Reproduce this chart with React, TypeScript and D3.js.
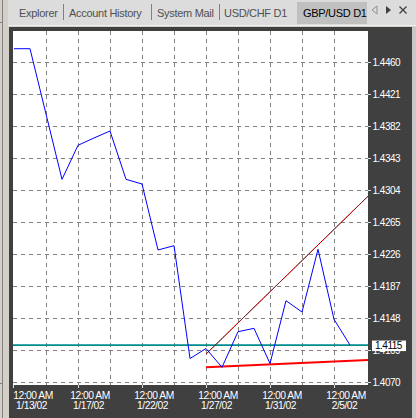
import React from "react";
import * as d3 from "d3";

// ---- data ----
const dates = [
  "1/13/02", "1/14/02", "1/15/02", "1/16/02", "1/17/02", "1/18/02",
  "1/20/02", "1/21/02", "1/22/02", "1/23/02", "1/24/02", "1/25/02",
  "1/27/02", "1/28/02", "1/29/02", "1/30/02", "1/31/02", "2/1/02",
  "2/3/02", "2/4/02", "2/5/02", "2/6/02",
];
const closes = [
  1.44762, 1.44762, 1.43966, 1.4317, 1.43585, 1.43674,
  1.43759, 1.4317, 1.43113, 1.42309, 1.42361, 1.40986,
  1.41108, 1.40879, 1.41313, 1.41354, 1.40925, 1.41691,
  1.41553, 1.42317, 1.41464, 1.4115,
];
const priceTicks = [1.407, 1.4109, 1.4148, 1.4187, 1.4226, 1.4265, 1.4304, 1.4343, 1.4382, 1.4421, 1.446];
const dateTickIdx = [0, 4, 8, 12, 16, 20];
const timeLabel = "12:00 AM";
const currentPrice = 1.4115;
// trend lines: anchor points [barIndex, price]
const upperTrendIdx = [12, 19];
const upperTrendVal = [1.4104, 1.4237];
const lowerTrendIdx = [12, 21];
const lowerTrendVal = [1.40879, 1.40958];
const tabs = ["Explorer", "Account History", "System Mail", "USD/CHF D1", "GBP/USD D1"];

// ---- layout ----
const W = 416, H = 418;
const PL = 13, PR = 368, PT = 31, PB = 385;
const tabX = [19, 69, 157, 224, 303];
const sepX = [63, 151, 219];

export default function App() {
  const x = d3.scaleLinear().domain([0, dates.length - 1]).range([14, 350]);
  const y = d3.scaleLinear().domain([1.407, 1.446]).range([382, 62]);
  const line = d3
    .line<number>()
    .x((_, i) => x(i))
    .y((d) => y(d));
  const blue = line(closes) || "";

  const ext = (idx: number[], val: number[]) => {
    const s = (val[1] - val[0]) / (idx[1] - idx[0]);
    const iEnd = x.invert(PR);
    return { x1: x(idx[0]), y1: y(val[0]), x2: x(iEnd), y2: y(val[0] + s * (iEnd - idx[0])) };
  };
  const up = ext(upperTrendIdx, upperTrendVal);
  const lo = ext(lowerTrendIdx, lowerTrendVal);

  const font = "'Liberation Sans', Arial, sans-serif";
  const gridIdx = d3.range(2, dates.length, 2);
  const boxTop = y(currentPrice) - 4.5;
  const boxH = 10.5;

  return (
    <svg
      width={W}
      height={H}
      style={{ position: "absolute", left: 0, top: 0, display: "block" }}
      fontFamily={font}
    >
      {/* window background */}
      <rect x={0} y={0} width={W} height={H} fill="#d4d0c8" />
      {/* left strip */}
      <line x1={2.5} y1={0} x2={2.5} y2={H} stroke="#808080" />
      <line x1={0} y1={22.5} x2={3} y2={22.5} stroke="#808080" />
      <line x1={0} y1={383.5} x2={3} y2={383.5} stroke="#808080" />
      {/* tab bar */}
      <rect x={8} y={0} width={W - 8} height={26} fill="#dcdcdc" />
      <rect x={297} y={2} width={70} height={22} fill="#c0c0c0" />
      {sepX.map((sx) => (
        <line key={sx} x1={sx + 0.5} y1={4} x2={sx + 0.5} y2={20} stroke="#808080" />
      ))}
      {tabs.map((t, i) => (
        <text
          key={t}
          x={tabX[i]}
          y={16.5}
          fontSize={11}
          letterSpacing={-0.3}
          fill={i === tabs.length - 1 ? "#000" : "#505050"}
        >
          {t}
        </text>
      ))}
      <rect x={367} y={0} width={W - 367} height={26} fill="#dcdcdc" />
      <path d="M377,6 L372,10 L377,14 Z" fill="none" stroke="#909090" />
      <path d="M386,6 L391,10 L386,14 Z" fill="#404040" />
      <path d="M399.5,6.5 L406.5,13.5 M406.5,6.5 L399.5,13.5" stroke="#404040" strokeWidth={1.3} />
      <line x1={8} y1={25.5} x2={W} y2={25.5} stroke="#f0f0f0" />

      {/* dark chart frame */}
      <rect x={9} y={27} width={412 - 9} height={H - 27} fill="#404040" />
      <rect x={412} y={27} width={4} height={H - 27} fill="#c8c8c8" />
      {/* plot */}
      <rect x={PL} y={PT} width={PR - PL} height={PB - PT} fill="#ffffff" />
      <defs>
        <clipPath id="plotClip">
          <rect x={PL} y={PT} width={PR - PL} height={PB - PT} />
        </clipPath>
        <clipPath id="underBox">
          <rect x={PR} y={boxTop + boxH} width={W - PR} height={20} />
        </clipPath>
      </defs>
      <g stroke="#808080" strokeDasharray="4,4">
        {priceTicks.map((p) => (
          <line key={p} x1={PL} x2={PR} y1={Math.round(y(p)) + 0.5} y2={Math.round(y(p)) + 0.5} />
        ))}
        {gridIdx.map((i) => (
          <line key={i} x1={Math.round(x(i)) + 0.5} x2={Math.round(x(i)) + 0.5} y1={PT} y2={PB} />
        ))}
      </g>
      <g clipPath="url(#plotClip)">
        <line
          x1={PL}
          x2={PR}
          y1={y(currentPrice)}
          y2={y(currentPrice)}
          stroke="#008c8c"
          strokeWidth={1.6}
        />
        <line {...lo} stroke="#ff0000" strokeWidth={2} />
        <line {...up} stroke="#202020" strokeWidth={1} />
        <line {...up} stroke="#ff0000" strokeWidth={1} strokeDasharray="2,1" />
        <path d={blue} fill="none" stroke="#0000ff" strokeWidth={1} />
      </g>

      {/* right axis */}
      {priceTicks.map((p) => {
        const hidden = Math.abs(y(p) - y(currentPrice)) < 8;
        return (
          <g key={p}>
            <line x1={PR} x2={371} y1={Math.round(y(p)) + 0.5} y2={Math.round(y(p)) + 0.5} stroke="#e0e0e0" />
            <text
              x={372.5}
              y={y(p) + 3.8}
              fontSize={10}
              letterSpacing={-0.5}
              fill="#ffffff"
              clipPath={hidden ? "url(#underBox)" : undefined}
            >
              {p.toFixed(4)}
            </text>
          </g>
        );
      })}
      <rect x={372} y={boxTop} width={34} height={boxH} fill="#ffffff" />
      <text x={375} y={y(currentPrice) + 4} fontSize={10} letterSpacing={-0.5} fill="#000000">
        {currentPrice.toFixed(4)}
      </text>

      {/* bottom axis */}
      {dateTickIdx.map((i) => {
        const tx = Math.round(x(i)) - (i === 0 ? 1 : 0);
        const cx = i === 0 ? 33 : tx + 12;
        return (
          <g key={i}>
            <line x1={tx + 0.5} x2={tx + 0.5} y1={PB} y2={PB + 3} stroke="#e0e0e0" />
            <text x={cx} y={398.7} fontSize={10.3} letterSpacing={-0.5} fill="#fff" textAnchor="middle">
              {timeLabel}
            </text>
            <text x={cx - 1.5} y={409} fontSize={10.3} letterSpacing={-0.5} fill="#fff" textAnchor="middle">
              {dates[i]}
            </text>
          </g>
        );
      })}
    </svg>
  );
}
